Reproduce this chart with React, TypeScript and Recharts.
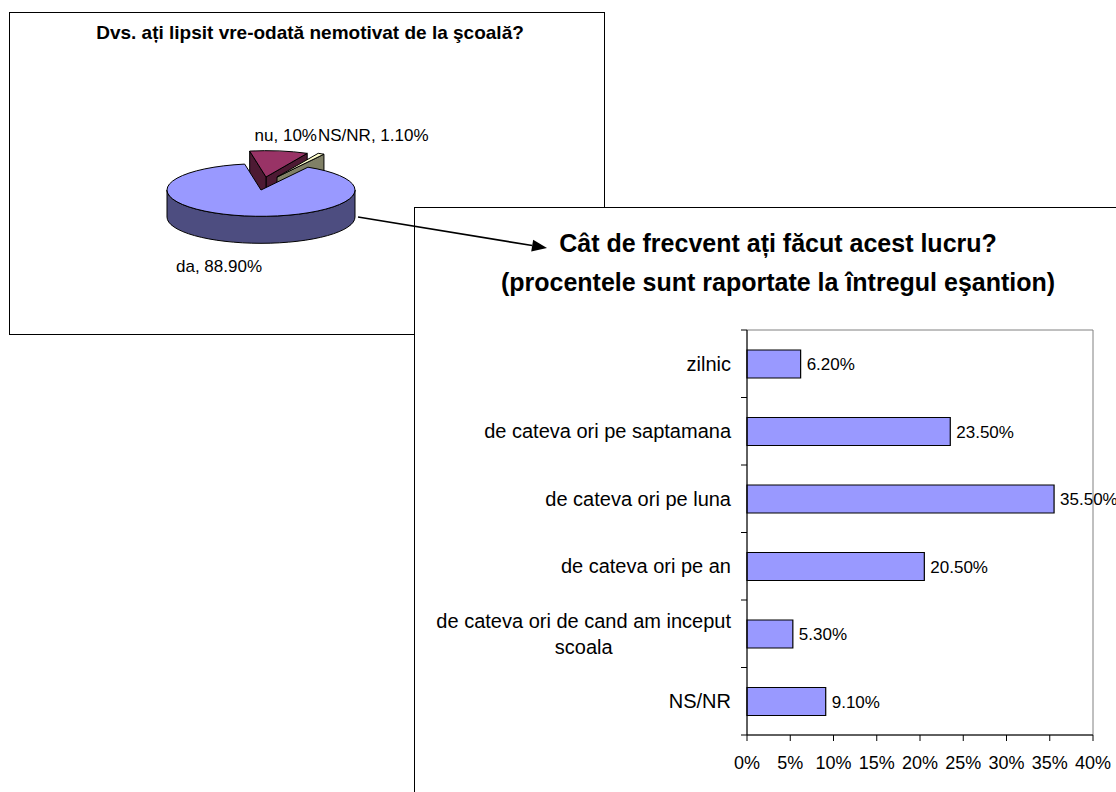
import React from 'react';
import {
  Bar,
  BarChart,
  Cell,
  LabelList,
  Pie,
  PieChart,
  ReferenceArea,
  XAxis,
  YAxis,
} from 'recharts';

// --- date ---
const PIE_TITLE = 'Dvs. ați lipsit vre-odată nemotivat de la şcoală?';
const pieNames = ['nu', 'NS/NR', 'da'];
const pieValues = [10, 1.1, 88.9];

const BAR_TITLE_1 = 'Cât de frecvent ați făcut acest lucru?';
const BAR_TITLE_2 = '(procentele sunt raportate la întregul eşantion)';
const categories = [
  'zilnic',
  'de cateva ori pe saptamana',
  'de cateva ori pe luna',
  'de cateva ori pe an',
  'de cateva ori de cand am inceput scoala',
  'NS/NR',
];
const frequencies = [6.2, 23.5, 35.5, 20.5, 5.3, 9.1];
const xTicks = [0, 5, 10, 15, 20, 25, 30, 35, 40];

const pieData = pieNames.map((name, i) => ({ name, value: pieValues[i] }));
const barData = categories.map((name, i) => ({ name, value: frequencies[i] }));

// --- stil ---
const FONT = '"Liberation Sans", Arial, sans-serif';
const PIE_FILLS = ['#993366', '#FFFFCC', '#9999FF'];
const PIE_SIDES: Record<string, string> = {
  '#993366': '#4D1A33',
  '#FFFFCC': '#808066',
  '#9999FF': '#4D4D80',
};
// felia "nu" si "NS/NR" sunt scoase in afara (efect Excel)
const EXPLODE: Record<string, [number, number]> = { nu: [5, -13], 'NS/NR': [16, -13] };
const LABEL_POS: Record<string, { dx: number; dy: number; anchor: 'start' | 'end' }> = {
  nu: { dx: 56, dy: -55, anchor: 'end' },
  'NS/NR': { dx: 57, dy: -55, anchor: 'start' },
  da: { dx: -85, dy: 76, anchor: 'start' },
};
const TILT = 0.28;
const DEPTH = 27;
const TICK_GAP = 16;

const pct = (v: number) => (Number.isInteger(v) ? `${v}%` : `${v.toFixed(2)}%`);

// felie 3D desenata din unghiurile calculate de Recharts
function Slice3D(props: any) {
  const { cx, cy, outerRadius, startAngle, endAngle, fill } = props;
  const name = props.name ?? props.payload?.name;
  const [ox, oy] = EXPLODE[name] ?? [0, 0];
  const x0 = cx + ox;
  const y0 = cy + oy;
  const rx = outerRadius;
  const ry = outerRadius * TILT;
  const lo = Math.min(startAngle, endAngle);
  const hi = Math.max(startAngle, endAngle);
  const rad = (a: number) => (a * Math.PI) / 180;
  const P = (a: number, d = 0) => `${x0 + rx * Math.cos(rad(a))},${y0 - ry * Math.sin(rad(a)) + d}`;
  const side = PIE_SIDES[fill] ?? '#555';
  const paths: { d: string; fill: string }[] = [];

  const face = (a: number) => ({
    d: `M${x0},${y0}L${P(a)}L${P(a, DEPTH)}L${x0},${y0 + DEPTH}Z`,
    fill: side,
  });
  if (Math.cos(rad(lo)) > 0.01) paths.push(face(lo));
  if (-Math.cos(rad(hi)) > 0.01) paths.push(face(hi));

  for (let k = Math.floor(lo / 360) - 1; k <= Math.ceil(hi / 360) + 1; k++) {
    const s = Math.max(lo, 180 + 360 * k);
    const e = Math.min(hi, 360 + 360 * k);
    if (e > s) {
      const large = e - s > 180 ? 1 : 0;
      paths.push({
        d: `M${P(s)}A${rx},${ry} 0 ${large} 0 ${P(e)}L${P(e, DEPTH)}A${rx},${ry} 0 ${large} 1 ${P(s, DEPTH)}Z`,
        fill: side,
      });
    }
  }

  const large = hi - lo > 180 ? 1 : 0;
  paths.push({ d: `M${x0},${y0}L${P(lo)}A${rx},${ry} 0 ${large} 0 ${P(hi)}Z`, fill });

  return (
    <g>
      {paths.map((p, i) => (
        <path key={i} d={p.d} fill={p.fill} stroke="#000" strokeWidth={1} strokeLinejoin="round" />
      ))}
    </g>
  );
}

function renderPieLabel(props: any) {
  const name = props.name ?? props.payload?.name;
  const pos = LABEL_POS[name];
  if (!pos) return null;
  return (
    <text
      x={props.cx + pos.dx}
      y={props.cy + pos.dy}
      dy="0.35em"
      textAnchor={pos.anchor}
      fontSize={17}
      fontFamily={FONT}
      fill="#000"
    >
      {`${name}, ${pct(props.value)}`}
    </text>
  );
}

let measureCtx: CanvasRenderingContext2D | null = null;
function textWidth(s: string, font: string) {
  if (!measureCtx) measureCtx = document.createElement('canvas').getContext('2d');
  if (!measureCtx) return s.length * 10;
  measureCtx.font = font;
  return measureCtx.measureText(s).width;
}

function wrapLabel(label: string, maxChars: number) {
  const words = label.split(' ');
  const lines: string[] = [];
  let cur = '';
  for (const w of words) {
    const next = cur ? `${cur} ${w}` : w;
    if (next.length > maxChars && cur) {
      lines.push(cur);
      cur = w;
    } else cur = next;
  }
  if (cur) lines.push(cur);
  return lines;
}

function CategoryTick(props: any) {
  const { x, y, payload, index } = props;
  const half = payload?.offset ?? 405 / 12;
  const axisX = x + TICK_GAP;
  const lines = wrapLabel(String(payload.value), 32);
  const font = `20px ${FONT}`;
  const w = Math.max(...lines.map((l) => textWidth(l, font)));
  const lh = 26;
  return (
    <g>
      <line x1={axisX - 6} x2={axisX} y1={y - half} y2={y - half} stroke="#000" />
      {index === categories.length - 1 && (
        <line x1={axisX - 6} x2={axisX} y1={y + half} y2={y + half} stroke="#000" />
      )}
      {lines.length === 1 ? (
        <text x={x} y={y} dy="0.35em" textAnchor="end" fontSize={20} fontFamily={FONT} fill="#000">
          {lines[0]}
        </text>
      ) : (
        lines.map((l, i) => (
          <text
            key={i}
            x={x - w / 2}
            y={y + (i - (lines.length - 1) / 2) * lh}
            dy="0.35em"
            textAnchor="middle"
            fontSize={20}
            fontFamily={FONT}
            fill="#000"
          >
            {l}
          </text>
        ))
      )}
    </g>
  );
}

function Arrow({ x1, y1, x2, y2 }: { x1: number; y1: number; x2: number; y2: number }) {
  const len = Math.hypot(x2 - x1, y2 - y1);
  const ux = (x2 - x1) / len;
  const uy = (y2 - y1) / len;
  const hl = 15;
  const hw = 6;
  const bx = x2 - ux * hl;
  const by = y2 - uy * hl;
  return (
    <g>
      <line x1={x1} y1={y1} x2={bx} y2={by} stroke="#000" strokeWidth={1.6} />
      <polygon
        points={`${x2},${y2} ${bx - uy * hw},${by + ux * hw} ${bx + uy * hw},${by - ux * hw}`}
        fill="#000"
      />
    </g>
  );
}

export default function App() {
  return (
    <div
      style={{
        position: 'absolute',
        left: 0,
        top: 0,
        width: 1116,
        height: 792,
        overflow: 'hidden',
        background: '#fff',
        fontFamily: FONT,
      }}
    >
      {/* cutia cu diagrama circulara */}
      <div
        style={{
          position: 'absolute',
          left: 9,
          top: 12,
          width: 596,
          height: 323,
          border: '1px solid #000',
          boxSizing: 'border-box',
          background: '#fff',
        }}
      />
      <div
        style={{
          position: 'absolute',
          left: 12,
          top: 21,
          width: 596,
          lineHeight: '24px',
          fontSize: 19,
          fontWeight: 'bold',
          textAlign: 'center',
        }}
      >
        {PIE_TITLE}
      </div>
      <div style={{ position: 'absolute', left: 9, top: 12 }}>
        <PieChart width={596} height={323} margin={{ top: 0, right: 0, bottom: 0, left: 0 }}>
          <Pie
            data={pieData}
            dataKey="value"
            nameKey="name"
            cx={252}
            cy={178}
            outerRadius={94}
            startAngle={100}
            endAngle={-260}
            shape={Slice3D}
            label={renderPieLabel}
            labelLine={false}
            isAnimationActive={false}
          >
            {pieData.map((d, i) => (
              <Cell key={d.name} fill={PIE_FILLS[i]} />
            ))}
          </Pie>
        </PieChart>
      </div>

      {/* cutia cu diagrama cu bare */}
      <div
        style={{
          position: 'absolute',
          left: 414,
          top: 207,
          width: 760,
          height: 700,
          border: '1px solid #000',
          boxSizing: 'border-box',
          background: '#fff',
        }}
      />
      <div
        style={{
          position: 'absolute',
          left: 414,
          top: 224,
          width: 728,
          lineHeight: '39px',
          fontSize: 25,
          fontWeight: 'bold',
          textAlign: 'center',
        }}
      >
        <div>{BAR_TITLE_1}</div>
        <div>{BAR_TITLE_2}</div>
      </div>
      <div style={{ position: 'absolute', left: 414, top: 300 }}>
        <BarChart
          layout="vertical"
          width={702}
          height={492}
          data={barData}
          margin={{ top: 30, right: 23, bottom: 7, left: 0 }}
        >
          <ReferenceArea x1={0} x2={40} fill="none" stroke="#808080" strokeWidth={1} />
          <XAxis
            type="number"
            domain={[0, 40]}
            ticks={xTicks}
            interval={0}
            tickFormatter={(v) => `${v}%`}
            axisLine={{ stroke: '#000' }}
            tickLine={{ stroke: '#000' }}
            tickSize={6}
            tickMargin={15}
            height={50}
            tick={{ fontSize: 18, fill: '#000', fontFamily: FONT }}
          />
          <YAxis
            type="category"
            dataKey="name"
            width={333}
            interval={0}
            axisLine={{ stroke: '#000' }}
            tickLine={false}
            tickSize={0}
            tickMargin={TICK_GAP}
            tick={(p: any) => <CategoryTick {...p} />}
          />
          <Bar
            dataKey="value"
            fill="#9999FF"
            stroke="#000"
            strokeWidth={1.2}
            barSize={28}
            isAnimationActive={false}
          >
            <LabelList
              dataKey="value"
              position="right"
              offset={6}
              formatter={(v: any) => `${Number(v).toFixed(2)}%`}
              fontSize={17}
              fill="#000"
              fontFamily={FONT}
            />
          </Bar>
        </BarChart>
      </div>

      {/* sageata */}
      <svg
        width={1116}
        height={792}
        style={{ position: 'absolute', left: 0, top: 0, pointerEvents: 'none' }}
      >
        <Arrow x1={358} y1={217} x2={547} y2={248} />
      </svg>
    </div>
  );
}
